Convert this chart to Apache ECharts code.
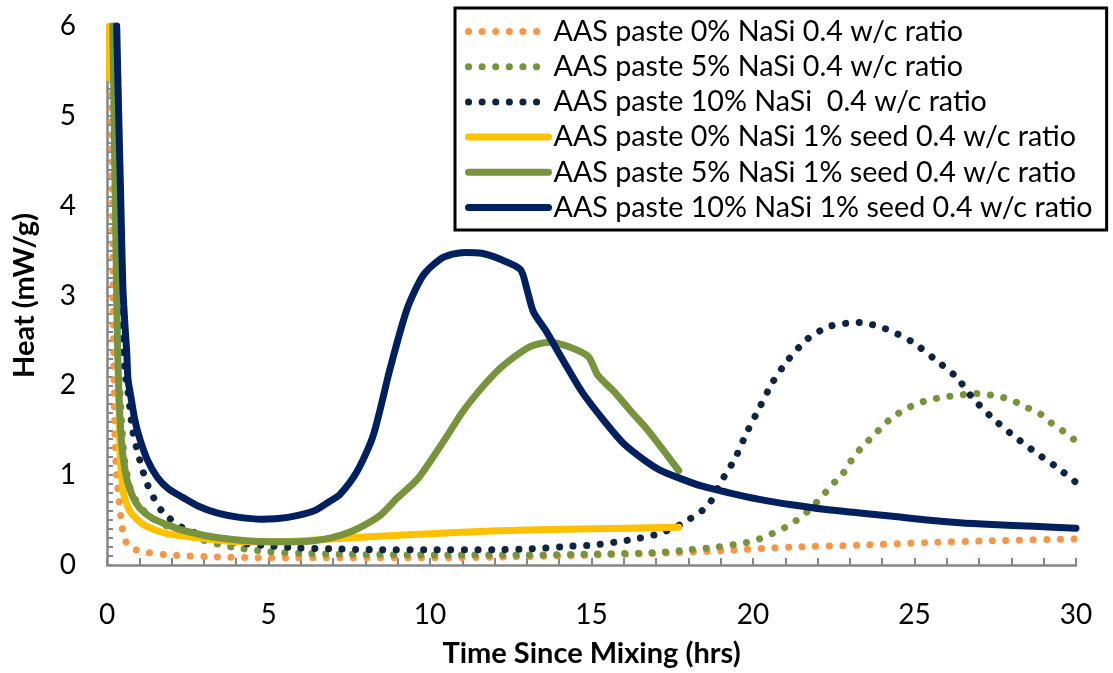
<!DOCTYPE html>
<html>
<head>
<meta charset="utf-8">
<script src="https://cdn.jsdelivr.net/npm/echarts@6/dist/echarts.min.js"></script>
<style>
html,body{margin:0;padding:0;background:#fff;}
#chart{width:1113px;height:673px;}
</style>
</head>
<body>
<div id="chart"></div>
<script>
// Series names (legend order)
const seriesNames = [
  'AAS paste 0% NaSi 0.4 w/c ratio',
  'AAS paste 5% NaSi 0.4 w/c ratio',
  'AAS paste 10% NaSi  0.4 w/c ratio',
  'AAS paste 0% NaSi 1% seed 0.4 w/c ratio',
  'AAS paste 5% NaSi 1% seed 0.4 w/c ratio',
  'AAS paste 10% NaSi 1% seed 0.4 w/c ratio'
];

// [time (hrs), heat (mW/g)]
const nasi0 = [[0.14,6],[0.16,4.5],[0.19,3],[0.22,2.02],[0.25,1.39],[0.3,1.0],[0.36,0.77],[0.45,0.47],[0.53,0.31],[0.65,0.22],[0.8,0.18],[1.24,0.14],[2.0,0.11],[3.4,0.09],[5,0.08],[7.4,0.08],[10,0.08],[12.6,0.09],[15,0.11],[17.1,0.13],[19.1,0.16],[21.2,0.20],[23.3,0.22],[25.4,0.25],[27.4,0.27],[30,0.29]];

const nasi5 = [[0.2,6],[0.25,4.5],[0.3,3.2],[0.36,2.3],[0.45,1.6],[0.55,1.15],[0.7,0.88],[0.8,0.78],[1.02,0.65],[1.3,0.55],[1.64,0.47],[2.5,0.33],[3.7,0.21],[4.95,0.15],[6,0.13],[7.4,0.12],[10.5,0.11],[13,0.11],[15,0.12],[17.1,0.14],[18.05,0.17],[18.9,0.20],[19.8,0.25],[20.2,0.29],[20.6,0.35],[21.0,0.42],[21.4,0.51],[21.7,0.60],[22.0,0.71],[22.3,0.83],[22.6,0.95],[22.9,1.07],[23.1,1.20],[23.4,1.32],[23.7,1.43],[24.0,1.54],[24.3,1.64],[24.7,1.73],[25.1,1.80],[25.5,1.84],[25.9,1.87],[26.4,1.89],[26.8,1.91],[27.2,1.90],[27.7,1.87],[28.1,1.82],[28.5,1.75],[28.9,1.68],[29.2,1.59],[29.6,1.49],[30,1.38]];

const nasi10 = [[0.28,6],[0.33,4.8],[0.38,3.7],[0.42,3.1],[0.45,2.6],[0.55,2.2],[0.65,1.93],[0.8,1.49],[1.02,1.16],[1.27,0.88],[1.7,0.60],[2.36,0.41],[3.2,0.31],[4.0,0.25],[4.8,0.22],[5.9,0.19],[6.9,0.18],[8.5,0.17],[10,0.17],[12,0.17],[13.1,0.18],[14.4,0.21],[15.0,0.22],[16.2,0.28],[17.1,0.35],[17.8,0.46],[18.6,0.66],[19.0,0.92],[19.45,1.19],[19.8,1.47],[20.2,1.75],[20.6,2.03],[21.1,2.29],[21.7,2.52],[22.4,2.66],[23.3,2.70],[24.1,2.63],[24.9,2.49],[25.6,2.30],[26.3,2.09],[26.8,1.86],[27.4,1.64],[28.1,1.43],[28.8,1.24],[29.4,1.09],[30,0.92]];

const nasi0Seed = [[0.08,6],[0.08,5.42],'-',[0.355,2.0],[0.39,1.5],[0.41,1.22],[0.5,0.82],[0.71,0.60],[1.12,0.45],[1.85,0.35],[2.88,0.30],[4.0,0.26],[5.4,0.26],[7.4,0.30],[9.5,0.34],[12.1,0.38],[14.6,0.40],[17.7,0.42]];

const nasi5Seed = [[0.18,6],[0.22,5],[0.26,4],[0.3,3],[0.33,2.4],[0.355,2.07],[0.4,1.65],[0.46,1.33],[0.52,1.15],[0.61,0.96],[0.8,0.76],[1.02,0.63],[1.4,0.52],[1.85,0.45],[2.3,0.39],[2.88,0.34],[3.5,0.30],[4.3,0.27],[5.1,0.26],[5.9,0.26],[6.4,0.27],[6.9,0.30],[7.4,0.35],[7.9,0.43],[8.45,0.55],[8.97,0.74],[9.6,0.95],[10.0,1.15],[10.5,1.42],[11.0,1.70],[11.5,1.93],[12.0,2.13],[12.4,2.26],[13.1,2.43],[13.7,2.48],[14.3,2.43],[14.9,2.32],[15.2,2.11],[15.7,1.93],[16.2,1.72],[16.7,1.52],[17.2,1.29],[17.7,1.05]];

const nasi10Seed = [[0.3,6],[0.37,4.9],[0.43,4.0],[0.49,3.1],[0.55,2.7],[0.61,2.37],[0.65,2.07],[0.75,1.85],[0.87,1.6],[1.02,1.40],[1.25,1.17],[1.55,0.98],[1.9,0.85],[2.36,0.75],[2.8,0.66],[3.4,0.58],[4.1,0.53],[4.8,0.51],[5.6,0.53],[6.4,0.60],[6.9,0.71],[7.2,0.78],[7.74,1.04],[8.24,1.44],[8.76,2.18],[9.29,2.85],[9.78,3.22],[10.3,3.40],[10.7,3.46],[11.1,3.48],[11.6,3.47],[12.2,3.40],[12.8,3.29],[13.0,3.07],[13.2,2.82],[13.6,2.60],[14.1,2.29],[14.7,1.93],[15.4,1.60],[16.0,1.35],[16.7,1.15],[17.1,1.06],[17.7,0.97],[18.4,0.88],[19.3,0.80],[20.2,0.73],[21.2,0.67],[22.2,0.62],[23.3,0.58],[24.4,0.54],[25.4,0.50],[26.4,0.47],[27.4,0.45],[28.7,0.43],[30,0.41]];

const xTicks = { min: 0, max: 30, interval: 5 };
const yTicks = { min: 0, max: 6, interval: 1 };

const seriesData = [nasi0, nasi5, nasi10, nasi0Seed, nasi5Seed, nasi10Seed];
const colors = ['#F79646', '#77933C', '#0F243E', '#FFC000', '#77933C', '#002060'];
const dotted = [true, true, true, false, false, false];

const FONT = 'Lato';
const axisGray = '#868686';

const chart = echarts.init(document.getElementById('chart'), null, { renderer: 'canvas' });

const series = seriesData.map((d, i) => ({
  name: seriesNames[i],
  type: 'line',
  data: d,
  symbol: 'none',
  showSymbol: false,
  smooth: 0.25,
  z: 2 + i,
  lineStyle: dotted[i]
    ? { color: colors[i], width: 7, type: [0.1, 13.5], cap: 'round' }
    : { color: colors[i], width: 7, type: 'solid', cap: 'round', join: 'round' },
  itemStyle: { color: colors[i] }
}));

chart.setOption({
  animation: false,
  backgroundColor: '#fff',
  grid: { left: 107, right: 37, top: 26, bottom: 106, containLabel: false },
  legend: {
    orient: 'vertical',
    left: 455,
    top: 8,
    padding: [9, 14, 8, 10],
    itemWidth: 80,
    itemHeight: 30,
    itemGap: 6.2,
    borderColor: '#000',
    borderWidth: 3,
    backgroundColor: '#fff',
    itemStyle: { opacity: 0 },
    lineStyle: { width: 7 },
    data: seriesNames,
    textStyle: { fontFamily: FONT, fontSize: 28.7, color: '#000' }
  },
  xAxis: {
    type: 'value',
    min: xTicks.min, max: xTicks.max, interval: xTicks.interval,
    name: 'Time Since Mixing (hrs)',
    nameLocation: 'middle',
    nameGap: 74,
    nameTextStyle: { fontFamily: FONT, fontSize: 29, fontWeight: 'bold', color: '#000' },
    axisLine: { show: true, lineStyle: { color: axisGray, width: 2.5 } },
    axisTick: { show: true, inside: true, length: 7, lineStyle: { color: axisGray, width: 2 } },
    minorTick: { show: true, splitNumber: 5, length: 7, lineStyle: { color: axisGray, width: 2 } },
    splitLine: { show: false },
    axisLabel: { fontFamily: FONT, fontSize: 28, color: '#000', margin: 36 }
  },
  yAxis: {
    type: 'value',
    min: yTicks.min, max: yTicks.max, interval: yTicks.interval,
    name: 'Heat (mW/g)',
    nameLocation: 'middle',
    nameGap: 68,
    nameTextStyle: { fontFamily: FONT, fontSize: 29, fontWeight: 'bold', color: '#000' },
    axisLine: { show: true, lineStyle: { color: axisGray, width: 2.5 } },
    axisTick: { show: true, inside: true, length: 6, lineStyle: { color: axisGray, width: 2 } },
    minorTick: { show: true, splitNumber: 10, length: 6, lineStyle: { color: axisGray, width: 2 } },
    splitLine: { show: false },
    axisLabel: { fontFamily: FONT, fontSize: 28, color: '#000', margin: 31 }
  },
  series: series
});
</script>
</body>
</html>
